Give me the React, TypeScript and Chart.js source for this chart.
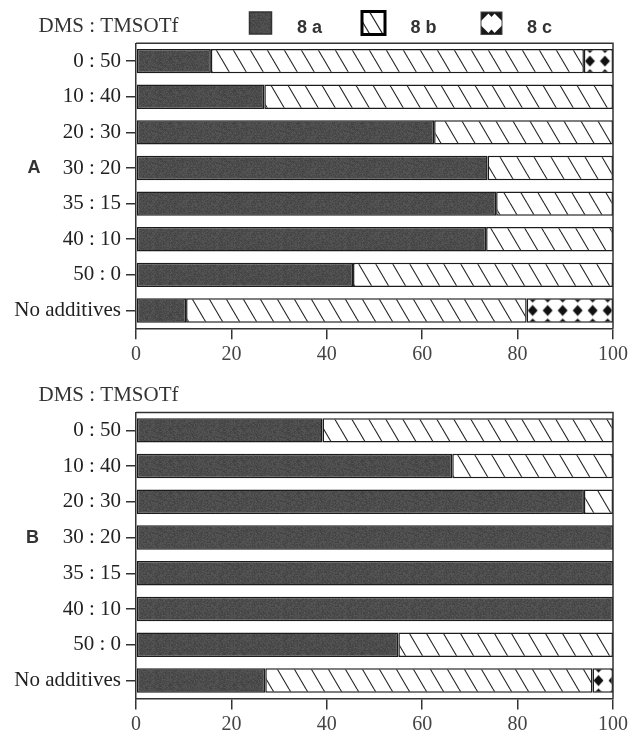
import React, { useEffect, useRef } from "react";
import { Chart, registerables } from "chart.js";
Chart.register(...registerables);

const categories = ["0 : 50", "10 : 40", "20 : 30", "30 : 20", "35 : 15", "40 : 10", "50 : 0", "No additives"];
const seriesNames = ["8 a", "8 b", "8 c"];
const xTickValues = [0, 20, 40, 60, 80, 100];
const headerText = "DMS : TMSOTf";
const panelLabels = ["A", "B"];

const a8a = [15.7, 26.9, 62.5, 73.7, 75.5, 73.4, 45.5, 10.5];
const a8b = [78.2, 73.1, 37.5, 26.3, 24.5, 26.6, 54.5, 71.4];
const a8c = [6.1, 0, 0, 0, 0, 0, 0, 18.1];

const b8a = [39.1, 66.3, 93.9, 100, 100, 100, 55.0, 27.1];
const b8b = [60.9, 33.7, 6.1, 0, 0, 0, 45.0, 68.6];
const b8c = [0, 0, 0, 0, 0, 0, 0, 4.3];

const LINE = "#222";
const SERIF = '"Liberation Serif", "Times New Roman", serif';
const SANS = '"Liberation Sans", Arial, sans-serif';

function hash(x: number, y: number): number {
  let h = (x * 374761393 + y * 668265263) | 0;
  h = (h ^ (h >>> 13)) * 1274126177;
  h = h ^ (h >>> 16);
  return ((h >>> 0) % 1000) / 1000;
}

function makeGrainTile(): HTMLCanvasElement {
  const w = 64, h = 32;
  const c = document.createElement("canvas");
  c.width = w; c.height = h;
  const g = c.getContext("2d")!;
  const img = g.createImageData(w, h);
  for (let y = 0; y < h; y++) {
    for (let x = 0; x < w; x++) {
      const v = Math.round(76 + (hash(x, y) - 0.5) * 22);
      const k = (y * w + x) * 4;
      img.data[k] = v; img.data[k + 1] = v; img.data[k + 2] = v; img.data[k + 3] = 255;
    }
  }
  g.putImageData(img, 0, 0);
  return c;
}

function makeHatchTile(): HTMLCanvasElement {
  const w = 17, h = 29;
  const c = document.createElement("canvas");
  c.width = w; c.height = h;
  const g = c.getContext("2d")!;
  g.fillStyle = "#fff";
  g.fillRect(0, 0, w, h);
  g.strokeStyle = LINE;
  g.lineWidth = 1.1;
  for (const dx of [-w, 0, w]) {
    g.beginPath();
    g.moveTo(dx, 0);
    g.lineTo(dx + w, h);
    g.stroke();
  }
  return c;
}

function diamond(g: CanvasRenderingContext2D, cx: number, cy: number, hw: number, hh: number) {
  g.beginPath();
  g.moveTo(cx, cy - hh);
  g.lineTo(cx + hw, cy);
  g.lineTo(cx, cy + hh);
  g.lineTo(cx - hw, cy);
  g.closePath();
  g.fill();
}

function makeDiamondTile(): HTMLCanvasElement {
  const w = 15, h = 24;
  const c = document.createElement("canvas");
  c.width = w; c.height = h;
  const g = c.getContext("2d")!;
  g.fillStyle = "#fff";
  g.fillRect(0, 0, w, h);
  g.fillStyle = "#111";
  diamond(g, w / 2, h / 2, 5, 5.5);
  diamond(g, w / 2, 0, 4, 4);
  diamond(g, w / 2, h, 4, 4);
  return c;
}

function drawLegend(ctx: CanvasRenderingContext2D, grain: CanvasPattern | string) {
  ctx.save();
  // 8a swatch
  ctx.fillStyle = grain;
  ctx.fillRect(249.5, 12, 22, 22);
  ctx.strokeStyle = "#333";
  ctx.lineWidth = 1.5;
  ctx.strokeRect(249.5, 12, 22, 22);
  // 8b swatch
  ctx.fillStyle = "#fff";
  ctx.fillRect(362, 11, 23, 23.5);
  ctx.save();
  ctx.beginPath();
  ctx.rect(362, 11, 23, 23.5);
  ctx.clip();
  ctx.strokeStyle = "#222";
  ctx.lineWidth = 1.2;
  for (const k of [-6, 7]) {
    ctx.beginPath();
    ctx.moveTo(362 + k, 11);
    ctx.lineTo(362 + k + 14, 34.5);
    ctx.stroke();
  }
  ctx.restore();
  ctx.strokeStyle = "#000";
  ctx.lineWidth = 3;
  ctx.strokeRect(362, 11.5, 23, 23);
  // 8c swatch
  ctx.fillStyle = "#fff";
  ctx.fillRect(481, 12, 21, 22.5);
  ctx.save();
  ctx.beginPath();
  ctx.rect(481, 12, 21, 22.5);
  ctx.clip();
  ctx.fillStyle = "#1a1a1a";
  diamond(ctx, 481, 12, 9, 9);
  diamond(ctx, 502, 12, 9, 9);
  diamond(ctx, 481, 34.5, 9, 9);
  diamond(ctx, 502, 34.5, 9, 9);
  diamond(ctx, 491.5, 12, 4.5, 5);
  diamond(ctx, 491.5, 34.5, 4.5, 5);
  ctx.restore();
  ctx.strokeStyle = "#444";
  ctx.lineWidth = 1;
  ctx.strokeRect(481, 12, 21, 22.5);
  // texts
  ctx.fillStyle = "#333";
  ctx.font = `bold 18px ${SANS}`;
  ctx.textAlign = "left";
  ctx.textBaseline = "alphabetic";
  ctx.fillText(seriesNames[0], 297, 32.5);
  ctx.fillText(seriesNames[1], 410.5, 32.5);
  ctx.fillText(seriesNames[2], 527, 32.5);
  ctx.restore();
}

interface PanelCfg {
  d8a: number[];
  d8b: number[];
  d8c: number[];
  panel: string;
  panelX: number;
  headerY: number;
  padTop: number;
  xAxisH: number;
  legend: boolean;
}

function buildConfig(cfg: PanelCfg): any {
  const hatchTile = makeHatchTile();
  const diamondTile = makeDiamondTile();
  const grainTile = makeGrainTile();
  const nz = (arr: number[]) => arr.map((v) => (v === 0 ? null : v));

  const grainBg = (context: any) => {
    const pat = context.chart.ctx.createPattern(grainTile, "repeat");
    return pat || "#4c4c4c";
  };

  const diamondBg = (context: any) => {
    const chart = context.chart;
    const xs = chart.scales && chart.scales.x;
    const ys = chart.scales && chart.scales.y;
    const i = context.dataIndex;
    const pat = chart.ctx.createPattern(diamondTile, "repeat");
    if (!xs || !ys || i === undefined || !pat) return "#fff";
    const start = xs.getPixelForValue((cfg.d8a[i] || 0) + (cfg.d8b[i] || 0));
    const cy = ys.getPixelForValue(i);
    try {
      pat.setTransform(new DOMMatrix([1, 0, 0, 1, start - 1.5, cy - 12]));
    } catch (e) {}
    return pat;
  };

  const hatchBg = (context: any) => {
    const pat = context.chart.ctx.createPattern(hatchTile, "repeat");
    return pat || "#fff";
  };

  const common = {
    borderColor: "#1c1c1c",
    borderWidth: 1.5,
    borderSkipped: false,
    barPercentage: 0.685,
    categoryPercentage: 1,
  };

  const decor = {
    id: "decor" + cfg.panel,
    afterDraw(chart: any) {
      const ctx: CanvasRenderingContext2D = chart.ctx;
      const a = chart.chartArea;
      ctx.save();
      ctx.strokeStyle = "#333";
      ctx.lineWidth = 1.5;
      ctx.beginPath();
      ctx.moveTo(a.left, a.top);
      ctx.lineTo(a.right, a.top);
      ctx.lineTo(a.right, a.bottom);
      ctx.stroke();
      ctx.fillStyle = "#333";
      ctx.font = `21px ${SERIF}`;
      ctx.textAlign = "left";
      ctx.textBaseline = "middle";
      ctx.fillText(headerText, 38.5, cfg.headerY);
      ctx.font = `bold 18px ${SANS}`;
      ctx.fillText(cfg.panel, cfg.panelX, chart.scales.y.getPixelForValue(3));
      if (cfg.legend) drawLegend(ctx, ctx.createPattern(grainTile, "repeat") || "#555");
      ctx.restore();
    },
  };

  return {
    type: "bar",
    data: {
      labels: categories,
      datasets: [
        { label: seriesNames[0], data: nz(cfg.d8a), backgroundColor: grainBg, ...common },
        { label: seriesNames[1], data: nz(cfg.d8b), backgroundColor: hatchBg, ...common },
        { label: seriesNames[2], data: nz(cfg.d8c), backgroundColor: diamondBg, ...common },
      ],
    },
    options: {
      indexAxis: "y",
      responsive: false,
      animation: false,
      events: [],
      layout: { padding: { top: cfg.padTop, right: 17, left: 0, bottom: 0 } },
      plugins: { legend: { display: false }, tooltip: { enabled: false }, title: { display: false } },
      scales: {
        x: {
          type: "linear",
          stacked: true,
          min: 0,
          max: 100,
          afterBuildTicks: (scale: any) => {
            scale.ticks = xTickValues.map((v) => ({ value: v }));
          },
          ticks: {
            font: { family: SERIF, size: 20 },
            color: "#444",
            padding: 3,
            maxRotation: 0,
          },
          grid: { drawOnChartArea: false, drawTicks: true, tickLength: 11, color: "#333", lineWidth: 1.5 },
          border: { display: true, color: "#333", width: 1.5 },
          afterFit: (scale: any) => {
            scale.height = cfg.xAxisH;
          },
        },
        y: {
          type: "category",
          stacked: true,
          ticks: { font: { family: SERIF, size: 21 }, color: "#222", padding: 5 },
          grid: { drawOnChartArea: false, drawTicks: true, tickLength: 10, color: "#333", lineWidth: 1.5, offset: false },
          border: { display: true, color: "#333", width: 1.5 },
          afterFit: (scale: any) => {
            scale.width = 136;
          },
        },
      },
    },
    plugins: [decor],
  };
}

export default function App() {
  const topRef = useRef<HTMLCanvasElement>(null);
  const botRef = useRef<HTMLCanvasElement>(null);

  useEffect(() => {
    const c1 = new Chart(
      topRef.current!,
      buildConfig({
        d8a: a8a, d8b: a8b, d8c: a8c,
        panel: panelLabels[0], panelX: 27.5, headerY: 26,
        padTop: 43.3, xAxisH: 41.7, legend: true,
      })
    );
    const c2 = new Chart(
      botRef.current!,
      buildConfig({
        d8a: b8a, d8b: b8b, d8c: b8c,
        panel: panelLabels[1], panelX: 26, headerY: 25,
        padTop: 42.5, xAxisH: 35.6, legend: false,
      })
    );
    return () => {
      c1.destroy();
      c2.destroy();
    };
  }, []);

  return (
    <div style={{ position: "absolute", left: 0, top: 0, width: 631, height: 734, background: "#fff" }}>
      <canvas ref={topRef} width={631} height={370} style={{ position: "absolute", left: 0, top: 0 }} />
      <canvas ref={botRef} width={631} height={364} style={{ position: "absolute", left: 0, top: 370 }} />
    </div>
  );
}
